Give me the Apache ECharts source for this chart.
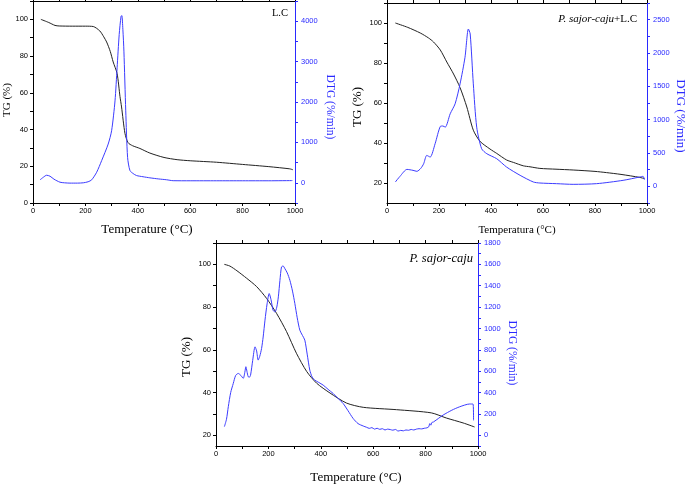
<!DOCTYPE html>
<html>
<head>
<meta charset="utf-8">
<script src="https://cdn.jsdelivr.net/npm/echarts@6/dist/echarts.min.js"></script>
<style>html,body{margin:0;padding:0;background:#fff;}#c{width:685px;height:485px;}</style>
</head>
<body>
<div id="c"></div>
<script>
// ---------- data ----------
// Plot 1 : L.C
const lcTgT   = [30, 60, 84, 100, 150, 200, 230, 255, 270, 281, 295, 306, 321, 332, 338, 351, 363, 380, 408, 446, 500, 550, 600, 700, 800, 900, 980, 992];
const lcTg    = [100, 98.3, 96.7, 96.4, 96.3, 96.3, 96.1, 93.7, 90.5, 87.7, 82.5, 76.8, 70.5, 58, 52.3, 37.9, 32.8, 31.2, 29.7, 27.2, 24.8, 23.6, 23, 22.2, 21, 19.8, 18.6, 18.1];
const lcDtgT  = [27, 40, 52, 65, 80, 103, 120, 141, 170, 192, 210, 224, 243, 262, 287, 300, 313, 321, 329, 336, 339, 343, 347, 354, 361, 370, 382, 395, 420, 446, 480, 510, 535, 600, 700, 800, 900, 990];
const lcDtg   = [74, 140, 187, 163, 90, 15, 0, -8, -8, 0, 25, 74, 261, 549, 960, 1288, 2027, 2847, 3670, 4120, 4140, 3800, 3259, 1781, 631, 303, 230, 180, 150, 123, 95, 75, 52, 50, 50, 50, 50, 55];

// Plot 2 : P. sajor-caju + L.C
const mixTgT  = [32, 80, 128, 160, 179, 205, 230, 256, 281, 307, 332, 358, 396, 422, 460, 486, 524, 550, 588, 650, 716, 800, 844, 900, 972, 990];
const mixTg   = [100, 97.8, 95, 92.5, 90.5, 86.5, 80.5, 74.5, 67.7, 58, 46.4, 40.8, 37, 34.8, 31.5, 30.3, 28.6, 28.1, 27.3, 26.9, 26.5, 25.8, 25.2, 24.3, 22.8, 22.2];
const mixDtgT = [32, 50, 77, 100, 115, 130, 141, 153, 166, 185, 205, 215, 224, 243, 262, 281, 300, 313, 320, 332, 345, 364, 384, 422, 460, 512, 563, 588, 652, 716, 806, 908, 972, 985, 990];
const mixDtg  = [65, 150, 254, 240, 225, 270, 339, 464, 439, 639, 898, 905, 888, 1088, 1238, 1537, 1936, 2360, 2285, 1537, 888, 564, 489, 414, 289, 165, 65, 50, 40, 30, 40, 90, 140, 150, 100];

// Plot 3 : P. sajor-caju
const psTgT   = [32, 53, 80, 117, 155, 193, 231, 269, 307, 346, 384, 435, 498, 562, 689, 822, 879, 943, 987];
const psTg    = [100, 99.2, 97, 93.5, 89.6, 84.1, 77.1, 68.6, 58.4, 49.9, 44.4, 39.8, 35.1, 33.1, 32, 30.5, 28.1, 25.8, 23.9];
const psDtgT  = [32, 40, 47, 56, 66, 75, 85, 95, 104, 110, 114, 118, 123, 128, 132, 140, 149, 155, 161, 167, 174, 180, 187, 195, 203, 210, 218, 225, 232, 238, 244, 250, 256, 263, 272, 282, 292, 301, 310, 320, 330, 339, 348, 358, 367, 377, 392, 409, 428, 447, 466, 485, 504, 523, 542, 562, 575, 585, 595, 605, 615, 625, 635, 645, 655, 665, 675, 685, 695, 705, 715, 725, 735, 745, 755, 765, 775, 785, 795, 805, 812, 816, 820, 824, 830, 850, 867, 900, 930, 968, 981, 983];
const psDtg   = [81, 150, 268, 400, 486, 560, 579, 560, 533, 590, 642, 600, 548, 545, 564, 700, 828, 790, 704, 740, 813, 920, 1078, 1230, 1327, 1270, 1170, 1155, 1200, 1296, 1450, 1576, 1585, 1560, 1520, 1451, 1350, 1233, 1100, 984, 935, 891, 760, 610, 545, 517, 495, 470, 430, 392, 345, 299, 230, 159, 110, 87, 75, 65, 72, 58, 66, 56, 62, 50, 58, 54, 48, 55, 40, 46, 42, 50, 47, 55, 50, 58, 62, 60, 66, 70, 80, 110, 95, 120, 125, 160, 190, 235, 267, 293, 293, 140];

// tick values / labels
const xTicks      = [0, 100, 200, 300, 400, 500, 600, 700, 800, 900, 1000];
const xLabels     = [0, 200, 400, 600, 800, 1000];
const tgTicks1    = [0, 10, 20, 30, 40, 50, 60, 70, 80, 90, 100, 110];
const tgLabels1   = [0, 20, 40, 60, 80, 100];
const tgTicks23   = [20, 30, 40, 50, 60, 70, 80, 90, 100, 110];
const tgLabels23  = [20, 40, 60, 80, 100];
const dtgTicks1   = [-500, 0, 500, 1000, 1500, 2000, 2500, 3000, 3500, 4000, 4500];
const dtgLabels1  = [0, 1000, 2000, 3000, 4000];
const dtgTicks2   = [-250, 0, 250, 500, 750, 1000, 1250, 1500, 1750, 2000, 2250, 2500, 2750];
const dtgLabels2  = [0, 500, 1000, 1500, 2000, 2500];
const dtgTicks3   = [-100, 0, 100, 200, 300, 400, 500, 600, 700, 800, 900, 1000, 1100, 1200, 1300, 1400, 1500, 1600, 1700, 1800];
const dtgLabels3  = [0, 200, 400, 600, 800, 1000, 1200, 1400, 1600, 1800];

// ---------- chart ----------
const BLACK = '#222222';
const BLUE = '#3c3cff';
const AXBLUE = '#2a2aff';
const SANS = '"Liberation Sans", Arial, sans-serif';
const SERIF = '"Liberation Serif", "Times New Roman", serif';
const plain = v => String(v);

const zip = (a, b) => a.map((v, i) => [v, b[i]]);

const grids = [
  {left: 33, top: 1, width: 262, height: 202},
  {left: 387, top: 3, width: 260, height: 200},
  {left: 216, top: 243, width: 262, height: 203}
];

const xAxes = [], yAxes = [];
grids.forEach((g, i) => {
  xAxes.push({
    type: 'value', gridIndex: i, position: 'bottom', min: 0, max: 1000,
    axisLine: {show: true, onZero: false, lineStyle: {color: '#000', width: 1}},
    axisTick: {show: true, inside: false, length: 3, customValues: xTicks, lineStyle: {color: '#000'}},
    axisLabel: {show: true, customValues: xLabels, formatter: plain, fontSize: 7.5, fontFamily: SANS, color: '#000', margin: 4},
    splitLine: {show: false}
  });
  xAxes.push({
    type: 'value', gridIndex: i, position: 'top', min: 0, max: 1000,
    axisLine: {show: true, onZero: false, lineStyle: {color: '#000', width: 1}},
    axisTick: {show: true, inside: false, length: 3, customValues: xTicks, lineStyle: {color: '#000'}},
    axisLabel: {show: false},
    splitLine: {show: false}
  });
});

const tgCfg = [
  {min: 0, max: 110, ticks: tgTicks1, labels: tgLabels1},
  {min: 10, max: 110, ticks: tgTicks23, labels: tgLabels23},
  {min: 15, max: 110, ticks: tgTicks23, labels: tgLabels23}
];
const dtgCfg = [
  {min: -500, max: 4500, ticks: dtgTicks1, labels: dtgLabels1},
  {min: -250, max: 2750, ticks: dtgTicks2, labels: dtgLabels2},
  {min: -100, max: 1800, ticks: dtgTicks3, labels: dtgLabels3}
];
grids.forEach((g, i) => {
  yAxes.push({
    type: 'value', gridIndex: i, position: 'left', min: tgCfg[i].min, max: tgCfg[i].max,
    axisLine: {show: true, onZero: false, lineStyle: {color: '#000', width: 1}},
    axisTick: {show: true, inside: false, length: 3, customValues: tgCfg[i].ticks, lineStyle: {color: '#000'}},
    axisLabel: {show: true, customValues: tgCfg[i].labels, formatter: plain, fontSize: 7.5, fontFamily: SANS, color: '#000', margin: 5},
    splitLine: {show: false}
  });
  yAxes.push({
    type: 'value', gridIndex: i, position: 'right', min: dtgCfg[i].min, max: dtgCfg[i].max,
    axisLine: {show: true, onZero: false, lineStyle: {color: AXBLUE, width: 1}},
    axisTick: {show: true, inside: false, length: 3, customValues: dtgCfg[i].ticks, lineStyle: {color: AXBLUE}},
    axisLabel: {show: true, customValues: dtgCfg[i].labels, formatter: plain, fontSize: 7.5, fontFamily: SANS, color: AXBLUE, margin: 6},
    splitLine: {show: false}
  });
});

function line(xi, yi, data, color) {
  return {
    type: 'line', xAxisIndex: xi, yAxisIndex: yi, data: data,
    showSymbol: false, symbol: 'none', smooth: 0.25, silent: true,
    lineStyle: {color: color, width: 1}, animation: false
  };
}

const series = [
  line(0, 0, zip(lcTgT, lcTg), BLACK),
  line(0, 1, zip(lcDtgT, lcDtg), BLUE),
  line(2, 2, zip(mixTgT, mixTg), BLACK),
  line(2, 3, zip(mixDtgT, mixDtg), BLUE),
  line(4, 4, zip(psTgT, psTg), BLACK),
  line(4, 5, zip(psDtgT, psDtg), BLUE)
];

function txt(x, y, text, size, color, rot, align, extra) {
  return Object.assign({
    type: 'text', x: x, y: y, rotation: rot || 0, silent: true,
    style: {text: text, fill: color, font: size + 'px ' + SERIF, textAlign: align || 'center', textVerticalAlign: 'middle'}
  }, extra || {});
}

const graphics = [
  txt(147, 230, 'Temperature (°C)', 13, '#000'),
  txt(517, 230, 'Temperatura (°C)', 11, '#000'),
  txt(356, 478, 'Temperature (°C)', 13, '#000'),
  txt(7, 100, 'TG (%)', 11, '#000', Math.PI / 2),
  txt(358, 107, 'TG (%)', 13, '#000', Math.PI / 2),
  txt(187, 357, 'TG (%)', 13, '#000', Math.PI / 2),
  txt(330, 107, 'DTG (%/min)', 11.5, AXBLUE, -Math.PI / 2),
  txt(680, 116, 'DTG (%/min)', 13, AXBLUE, -Math.PI / 2),
  txt(512, 353, 'DTG (%/min)', 11.5, AXBLUE, -Math.PI / 2),
  txt(288, 13, 'L.C', 10.5, '#000', 0, 'right'),
  {
    type: 'text', x: 637, y: 19, silent: true,
    style: {
      text: '{i|P. sajor-caju}{n|+L.C}', textAlign: 'right', textVerticalAlign: 'middle',
      rich: {
        i: {fontFamily: SERIF, fontSize: 11, fontStyle: 'italic', fill: '#000', color: '#000'},
        n: {fontFamily: SERIF, fontSize: 11, fill: '#000', color: '#000'}
      }
    }
  },
  {
    type: 'text', x: 473, y: 259, silent: true,
    style: {text: 'P. sajor-caju', fill: '#000', font: 'italic 12.5px ' + SERIF, textAlign: 'right', textVerticalAlign: 'middle'}
  }
];

const chart = echarts.init(document.getElementById('c'), null, {renderer: 'canvas'});
chart.setOption({
  backgroundColor: '#fff',
  animation: false,
  grid: grids,
  xAxis: xAxes,
  yAxis: yAxes,
  series: series,
  graphic: graphics
});
</script>
</body>
</html>
